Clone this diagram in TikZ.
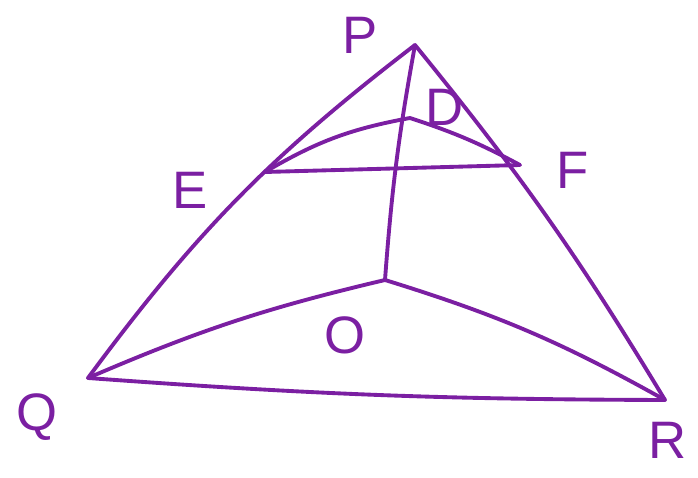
\documentclass[tikz,border=0pt]{standalone}
\usepackage{fontspec}
\setmainfont{Liberation Sans}
\definecolor{pen}{HTML}{7B1FA2}
\tikzset{ink/.style={color=pen, line width=2.2pt, line cap=round, line join=round},
  lab/.style={color=pen, font=\fontsize{30}{34}\selectfont}}
\begin{document}
\begin{tikzpicture}[scale=.5]
  \useasboundingbox (0,0) rectangle (27.92,-19.12);
  \coordinate (P) at (16.6,-1.8);
  \coordinate (Q) at (3.52,-15.12);
  \coordinate (R) at (26.6,-16.0);
  \coordinate (E) at (10.6,-6.88);
  \coordinate (F) at (20.8,-6.6);
  \coordinate (D) at (16.4,-4.72);
  \coordinate (O) at (15.4,-11.2);
  \draw[ink] (P) to[bend right=8] (Q);
  \draw[ink] (P) to[bend left=4] (R);
  \draw[ink] (Q) to[bend right=2] (R);
  \draw[ink] (E) -- (F);
  \draw[ink] (E) to[bend left=10] (D);
  \draw[ink] (D) to[bend left=5] (F);
  \draw[ink] (P) to[bend right=3] (O);
  \draw[ink] (Q) to[bend left=5] (O);
  \draw[ink] (O) to[bend left=6] (R);
  \node[lab] (labP) at (14.4,-1.4) {P};
  \node[lab] (labQ) at (1.5,-16.7) {Q};
  \node[lab] (labR) at (26.7,-17.6) {R};
  \node[lab] (labE) at (7.6,-7.6) {E};
  \node[lab] (labF) at (22.9,-6.8) {F};
  \node[lab] (labD) at (17.8,-4.3) {D};
  \node[lab] (labO) at (13.8,-13.4) {O};
\end{tikzpicture}
\end{document}
